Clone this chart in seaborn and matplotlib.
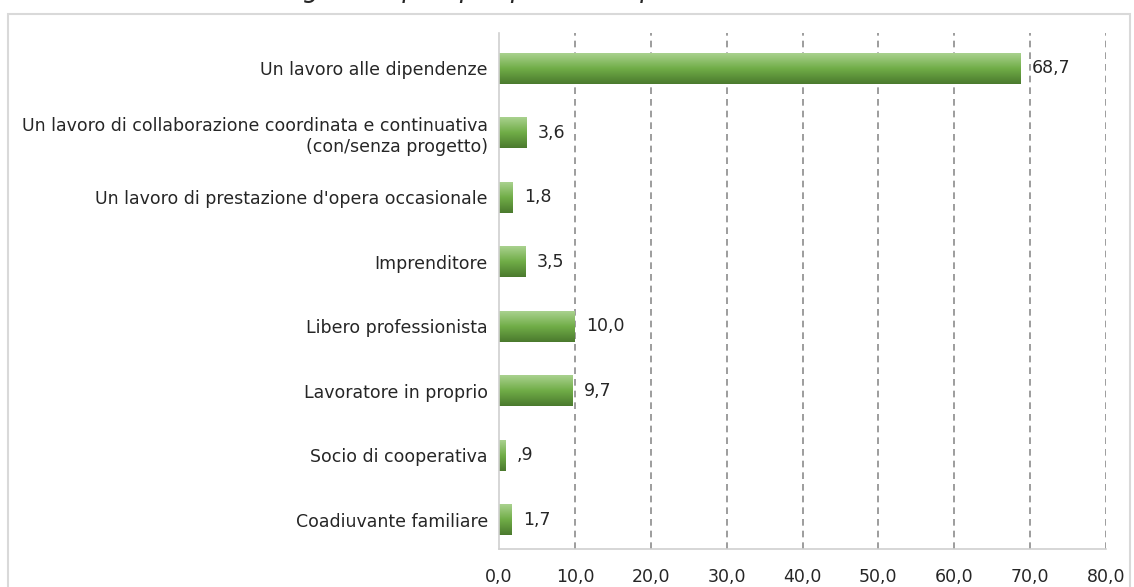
import matplotlib.pyplot as plt
import matplotlib.patches as mpatches
import numpy as np
import pandas as pd
import seaborn as sns

# Data
categories = [
    'Un lavoro alle dipendenze',
    'Un lavoro di collaborazione coordinata e continuativa\n(con/senza progetto)',
    "Un lavoro di prestazione d'opera occasionale",
    'Imprenditore',
    'Libero professionista',
    'Lavoratore in proprio',
    'Socio di cooperativa',
    'Coadiuvante familiare',
]
values = [68.7, 3.6, 1.8, 3.5, 10.0, 9.7, 0.9, 1.7]
xticks = [0, 10, 20, 30, 40, 50, 60, 70, 80]

df = pd.DataFrame({'cat': categories, 'val': values})

sns.set_style('white')
plt.rcParams['font.family'] = ['DejaVu Sans']
FS = 12.5

fig = plt.figure(figsize=(11.34, 5.87), dpi=100)
ax = fig.add_axes([499 / 1134, 1 - 549 / 587, (1106 - 499) / 1134, (549 - 33) / 587])

sns.barplot(data=df, y='cat', x='val', orient='h', ax=ax, width=0.48,
            color='#6aa84f', edgecolor='none')

# gradient fill on each bar (light top -> dark bottom)
grad = np.linspace(0, 1, 64).reshape(-1, 1)
cmap = sns.blend_palette(['#a9d18e', '#70ad47', '#4b7a2e'], as_cmap=True)
for p in ax.patches:
    x0, y0 = p.get_x(), p.get_y()
    w, h = p.get_width(), p.get_height()
    im = ax.imshow(grad, cmap=cmap, aspect='auto', extent=(x0, x0 + w, y0 + h, y0),
                   origin='upper', zorder=p.get_zorder() + 0.1)
    im.set_clip_path(p)

ax.set_xlim(0, 80)
ax.set_ylim(7.45, -0.55)
ax.set_xticks(xticks)
ax.set_xticklabels([f'{t:.1f}'.replace('.', ',') for t in xticks], fontsize=FS)
ax.tick_params(axis='x', length=0, pad=14)
ax.tick_params(axis='y', length=0, pad=8, labelsize=FS)
ax.set_xlabel('')
ax.set_ylabel('')

for t in xticks[1:]:
    ax.axvline(t, color='#8c8c8c', linestyle=(0, (4, 3)), linewidth=1.2, zorder=0)

for s in ['top', 'right']:
    ax.spines[s].set_visible(False)
for s in ['left', 'bottom']:
    ax.spines[s].set_color('#d0d0d0')
    ax.spines[s].set_linewidth(1.2)

# data labels
for i, v in enumerate(values):
    lbl = f'{v:.1f}'.replace('.', ',')
    if lbl.startswith('0,'):
        lbl = lbl[1:]
    ax.annotate(lbl, (v, i), xytext=(8, 0), textcoords='offset points',
                va='center', ha='left', fontsize=FS)

# outer frame
fig.patches.append(mpatches.Rectangle((8 / 1134, -0.05), 1 - 12 / 1134, 1 - 14 / 587 + 0.05,
                                      transform=fig.transFigure, fill=False,
                                      edgecolor='#d9d9d9', linewidth=1.5))

# title (clipped at top in the reference)
fig.text(0.0, 1 + 3 / 587, 'Grafico 4 - Posizione degli occupati per posizione professionale',
         fontsize=18.5, style='italic', va='baseline', ha='left')

fig.savefig('out.png', dpi=100)
